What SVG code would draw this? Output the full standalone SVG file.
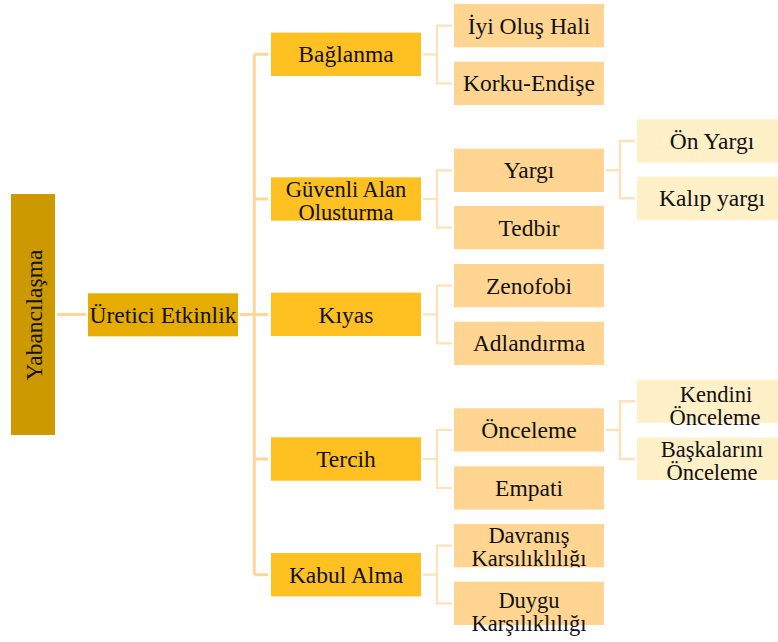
<svg xmlns="http://www.w3.org/2000/svg" width="778" height="642" viewBox="0 0 778 642" font-family="Liberation Serif" font-size="23.5">
<style>
text{fill:#111;text-anchor:middle}
.t2{font-size:22.5px}
.c0{stroke:#FFD699;stroke-width:3;fill:none}
.c1{stroke:#FFE2B8;stroke-width:2.2;fill:none}
.c2{stroke:#FFE2B8;stroke-width:2.5;fill:none}
.l1{fill:#FFC022}
.l2{fill:#FFD591}
.l3{fill:#FFF0C8}
</style>
<defs>
<clipPath id="clipG"><rect x="271" y="177.3" width="150" height="43.4"/></clipPath>
<clipPath id="clipD"><rect x="454" y="524" width="150" height="43.3"/></clipPath>
</defs>
<rect width="778" height="642" fill="#fff"/>
<g id="connectors">
<path class="c0" d="M57 314.5H86"/>
<path class="c0" d="M240 314.5H268M254.3 54.3V574.7M254.3 54.3H268M254.3 199H268M254.3 459H268M254.3 574.7H268"/>
<path class="c1" d="M423 54.3H437M452 25.7H437V83.3H452"/>
<path class="c1" d="M423 199H437M452 170.3H437V227.7H452"/>
<path class="c1" d="M423 314.3H437M452 285.7H437V343.3H452"/>
<path class="c1" d="M423 459H437M452 430H437V488H452"/>
<path class="c1" d="M423 574.7H437M452 545.7H437V603.3H452"/>
<path class="c2" d="M606 170.3H620M635 141H620V198.3H635"/>
<path class="c2" d="M606 430H620M635 401.3H620V458.9H635"/>
</g>
<g id="yabancilasma">
<rect x="11" y="194" width="44" height="241" fill="#CC9900"/>
<text font-family="Liberation Serif" transform="translate(41.5,315) rotate(-90)">Yabancılaşma</text>
</g>
<g id="uretici">
<rect x="88" y="293.3" width="150" height="43" fill="#E6AC00"/>
<text font-family="Liberation Serif" x="163" y="322.7">Üretici Etkinlik</text>
</g>
<g id="baglanma"><rect class="l1" x="271" y="32.6" width="150" height="43.4"/><text font-family="Liberation Serif" x="346" y="62.3">Bağlanma</text></g>
<g id="guvenli"><rect class="l1" x="271" y="177.3" width="150" height="43.4"/><g clip-path="url(#clipG)"><text class="t2" font-family="Liberation Serif" x="346" y="196.7">Güvenli Alan</text><text class="t2" font-family="Liberation Serif" x="346" y="219.7">Olusturma</text></g></g>
<g id="kiyas"><rect class="l1" x="271" y="292.6" width="150" height="43.4"/><text font-family="Liberation Serif" x="346" y="322.5">Kıyas</text></g>
<g id="tercih"><rect class="l1" x="271" y="437.3" width="150" height="43.4"/><text font-family="Liberation Serif" x="346" y="467">Tercih</text></g>
<g id="kabul"><rect class="l1" x="271" y="553" width="150" height="43.4"/><text font-family="Liberation Serif" x="346" y="582.7">Kabul Alma</text></g>
<g id="iyi"><rect class="l2" x="454" y="4" width="150" height="43.3"/><text font-family="Liberation Serif" x="529" y="33.7">İyi Oluş Hali</text></g>
<g id="korku"><rect class="l2" x="454" y="61.7" width="150" height="43.3"/><text font-family="Liberation Serif" x="529" y="91.3">Korku-Endişe</text></g>
<g id="yargi"><rect class="l2" x="454" y="148.7" width="150" height="43.3"/><text font-family="Liberation Serif" x="529" y="178.3">Yargı</text></g>
<g id="tedbir"><rect class="l2" x="454" y="206" width="150" height="43.3"/><text font-family="Liberation Serif" x="529" y="235.7">Tedbir</text></g>
<g id="zenofobi"><rect class="l2" x="454" y="264" width="150" height="43.3"/><text font-family="Liberation Serif" x="529" y="293.7">Zenofobi</text></g>
<g id="adlandirma"><rect class="l2" x="454" y="321.7" width="150" height="43.3"/><text font-family="Liberation Serif" x="529" y="351.3">Adlandırma</text></g>
<g id="onceleme"><rect class="l2" x="454" y="408.3" width="150" height="43.3"/><text font-family="Liberation Serif" x="529" y="438">Önceleme</text></g>
<g id="empati"><rect class="l2" x="454" y="466.3" width="150" height="43.3"/><text font-family="Liberation Serif" x="529" y="496">Empati</text></g>
<g id="davranis"><rect class="l2" x="454" y="524" width="150" height="43.3"/><g clip-path="url(#clipD)"><text class="t2" font-family="Liberation Serif" x="529" y="543">Davranış</text><text class="t2" font-family="Liberation Serif" x="529" y="566">Karsılıklılığı</text></g></g>
<g id="duygu"><rect class="l2" x="454" y="581.7" width="150" height="43.3"/><text class="t2" font-family="Liberation Serif" x="529" y="608">Duygu</text><text class="t2" font-family="Liberation Serif" x="529" y="631">Karşılıklılığı</text></g>
<g id="onyargi"><rect class="l3" x="637" y="119.3" width="150" height="43.3"/><text font-family="Liberation Serif" x="712" y="149">Ön Yargı</text></g>
<g id="kalip"><rect class="l3" x="637" y="176.7" width="150" height="43.3"/><text font-family="Liberation Serif" x="712" y="206.3">Kalıp yargı</text></g>
<g id="kendini"><rect class="l3" x="637" y="380" width="150" height="42.7"/><text class="t2" font-family="Liberation Serif" x="716" y="402.3">Kendini</text><text class="t2" font-family="Liberation Serif" x="715" y="425">Önceleme</text></g>
<g id="baskalarini"><rect class="l3" x="637" y="437.7" width="150" height="42.3"/><text class="t2" font-family="Liberation Serif" x="712" y="457.3">Başkalarını</text><text class="t2" font-family="Liberation Serif" x="712" y="480.3">Önceleme</text></g>
</svg>
